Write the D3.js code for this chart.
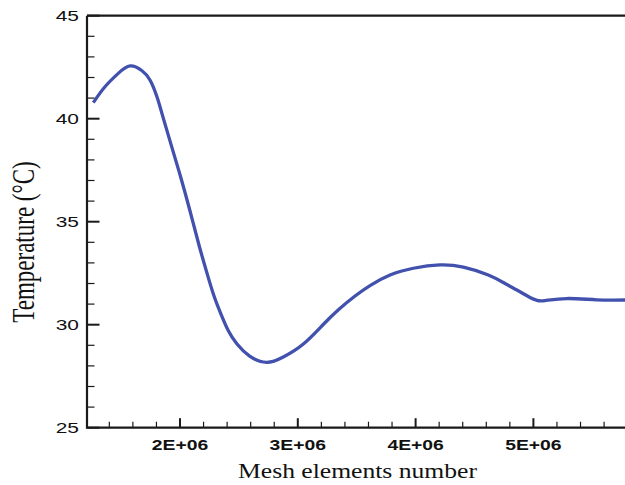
<!DOCTYPE html>
<html>
<head>
<meta charset="utf-8">
<script src="https://cdn.jsdelivr.net/npm/d3@7"></script>
<style>
  body { margin: 0; background: #fff; }
  svg { display: block; }
</style>
</head>
<body>
<svg id="chart" width="625" height="485"></svg>
<script>
// values (mesh elements, temperature in °C)
const meshElements = [
  1.264e6, 1.363e6, 1.476e6, 1.576e6, 1.675e6, 1.745e6, 1.805e6, 1.860e6,
  1.928e6, 2.008e6, 2.085e6, 2.161e6, 2.221e6, 2.283e6, 2.340e6, 2.407e6,
  2.484e6, 2.594e6, 2.736e6, 2.877e6, 3.047e6, 3.216e6, 3.352e6, 3.486e6,
  3.613e6, 3.783e6, 3.981e6, 4.207e6, 4.405e6, 4.617e6, 4.759e6, 4.886e6,
  4.971e6, 5.031e6, 5.098e6, 5.283e6, 5.537e6, 5.778e6
];
const temperature = [
  40.78, 41.55, 42.20, 42.56, 42.34, 41.88, 41.05, 39.99,
  38.67, 37.12, 35.52, 33.87, 32.66, 31.49, 30.62, 29.74,
  29.06, 28.46, 28.17, 28.43, 29.06, 30.01, 30.76, 31.39,
  31.90, 32.41, 32.74, 32.90, 32.79, 32.41, 32.00, 31.60,
  31.32, 31.18, 31.17, 31.27, 31.21, 31.20
];
const xMajorTicks = [2e6, 3e6, 4e6, 5e6];
const xTickLabels = ['2E+06', '3E+06', '4E+06', '5E+06'];
const yMajorTicks = [25, 30, 35, 40, 45];

const data = meshElements.map((m, i) => ({ m, t: temperature[i] }));

const svg = d3.select('#chart');
const plotLeft = 87, plotTop = 15.7, plotBottom = 427.7;

const x = d3.scaleLinear().domain([1.2105e6, 5.8e6]).range([plotLeft, plotLeft + 4.5895 * 117.8]);
const y = d3.scaleLinear().domain([25, 45]).range([plotBottom, plotTop]);

const axisColor = '#1a1a1a';

// minor / major ticks on x (pointing up into the plot)
const xMinor = d3.range(1.4e6, 5.8e6, 0.2e6).filter(v => !xMajorTicks.some(t => Math.abs(t - v) < 1));
svg.append('g').selectAll('line')
  .data(xMinor)
  .join('line')
  .attr('x1', d => x(d)).attr('x2', d => x(d))
  .attr('y1', plotBottom).attr('y2', plotBottom - 6)
  .attr('stroke', axisColor).attr('stroke-width', 1.2);
svg.append('g').selectAll('line')
  .data(xMajorTicks)
  .join('line')
  .attr('x1', d => x(d)).attr('x2', d => x(d))
  .attr('y1', plotBottom).attr('y2', plotBottom - 9.5)
  .attr('stroke', axisColor).attr('stroke-width', 2);

// y ticks (pointing right)
const yMinor = d3.range(26, 45, 1).filter(v => v % 5 !== 0);
svg.append('g').selectAll('line')
  .data(yMinor)
  .join('line')
  .attr('x1', plotLeft).attr('x2', plotLeft + 7.5)
  .attr('y1', d => y(d)).attr('y2', d => y(d))
  .attr('stroke', axisColor).attr('stroke-width', 1.2);
svg.append('g').selectAll('line')
  .data(yMajorTicks)
  .join('line')
  .attr('x1', plotLeft).attr('x2', plotLeft + 12.5)
  .attr('y1', d => y(d)).attr('y2', d => y(d))
  .attr('stroke', axisColor).attr('stroke-width', 2);

// frame: left, bottom, top
svg.append('path')
  .attr('d', `M${plotLeft},${plotTop}V${plotBottom}H630M${plotLeft},${plotTop}H630`)
  .attr('fill', 'none')
  .attr('stroke', axisColor)
  .attr('stroke-width', 2.2);

// tick labels
svg.append('g').selectAll('text')
  .data(yMajorTicks)
  .join('text')
  .attr('transform', d => `translate(79,${y(d) + 5.6}) scale(1.35,1)`)
  .attr('text-anchor', 'end')
  .attr('font-family', 'Liberation Sans, Arial, sans-serif')
  .attr('font-size', 15.5)
  .attr('fill', '#111')
  .text(d => d);

svg.append('g').selectAll('text')
  .data(xMajorTicks)
  .join('text')
  .attr('transform', d => `translate(${x(d)},450) scale(1.38,1)`)
  .attr('text-anchor', 'middle')
  .attr('font-family', 'Liberation Sans, Arial, sans-serif')
  .attr('font-weight', 'bold')
  .attr('font-size', 14)
  .attr('fill', '#111')
  .text((d, i) => xTickLabels[i]);

// axis titles
svg.append('text')
  .attr('transform', 'translate(357.5,478) scale(1.25,1)')
  .attr('text-anchor', 'middle')
  .attr('font-family', 'Liberation Serif, Times New Roman, serif')
  .attr('font-size', 20.5)
  .attr('fill', '#111')
  .text('Mesh elements number');

svg.append('text')
  .attr('transform', 'translate(33.5,242) scale(1.4,1) rotate(-90)')
  .attr('text-anchor', 'middle')
  .attr('font-family', 'Liberation Serif, Times New Roman, serif')
  .attr('font-size', 23)
  .attr('fill', '#111')
  .text('Temperature (°C)');

// curve
const line = d3.line()
  .x(d => x(d.m))
  .y(d => y(d.t))
  .curve(d3.curveNatural);

svg.append('path')
  .datum(data)
  .attr('d', line)
  .attr('fill', 'none')
  .attr('stroke', '#4151ad')
  .attr('stroke-width', 3.3)
  .attr('stroke-linejoin', 'round');
</script>
</body>
</html>
